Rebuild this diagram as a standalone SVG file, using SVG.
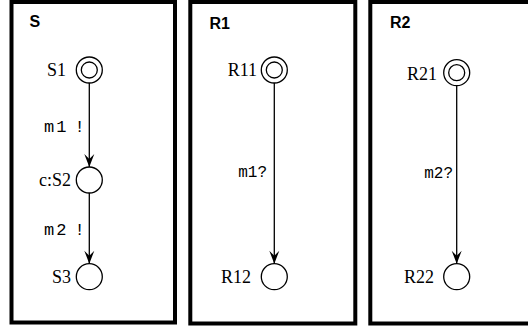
<svg xmlns="http://www.w3.org/2000/svg" width="528" height="329" viewBox="0 0 528 329">
<defs>
<style>
.box{fill:#fff;stroke:#000;stroke-width:4}
.title{font-family:"Liberation Sans",Arial,sans-serif;font-weight:bold;font-size:16px;fill:#000}
.st{fill:#fff;stroke:#000;stroke-width:1.3}
.sl{font-family:"Liberation Serif","Times New Roman",serif;font-size:18px;fill:#000;text-anchor:end}
.tl{font-family:"Liberation Mono","Courier New",monospace;font-size:16px;fill:#000;text-anchor:end}
.tls{font-family:"Liberation Mono","Courier New",monospace;font-size:17px;fill:#000;letter-spacing:2px}
.edge{stroke:#000;stroke-width:1.3;fill:none;marker-end:url(#ah)}
</style>
<marker id="ah" markerUnits="userSpaceOnUse" markerWidth="16" markerHeight="12" viewBox="-14 -6 16 12" refX="0" refY="0" orient="auto">
<path d="M0,0 L-13,-5 L-8,0 L-13,5 Z" fill="#000"/>
</marker>
</defs>
<g id="S">
<rect class="box" x="11.5" y="2" width="163.5" height="320.5"/>
<text class="title" x="29.5" y="27">S</text>
</g>
<g id="R1">
<rect class="box" x="190.3" y="2" width="165" height="321.5"/>
<text class="title" x="209.5" y="29">R1</text>
</g>
<g id="R2">
<rect class="box" x="370.3" y="2" width="165" height="321.5"/>
<text class="title" x="390" y="28">R2</text>
</g>
<g id="S1"><circle class="st" cx="89.3" cy="70" r="13"/><circle class="st" cx="89.3" cy="70" r="8"/><text class="sl" x="66" y="76">S1</text></g>
<g id="S2"><circle class="st" cx="89.3" cy="180" r="13"/><text class="sl" x="71" y="186">c:S2</text></g>
<g id="S3"><circle class="st" cx="89.3" cy="276.7" r="13"/><text class="sl" x="71" y="283">S3</text></g>
<g id="R11"><circle class="st" cx="274.3" cy="70" r="13"/><circle class="st" cx="274.3" cy="70" r="8"/><text class="sl" x="257" y="76">R11</text></g>
<g id="R12"><circle class="st" cx="274.3" cy="276.7" r="13"/><text class="sl" x="251" y="283">R12</text></g>
<g id="R21"><circle class="st" cx="456.7" cy="72.7" r="13"/><circle class="st" cx="456.7" cy="72.7" r="8"/><text class="sl" x="437" y="80">R21</text></g>
<g id="R22"><circle class="st" cx="456.7" cy="276.7" r="13"/><text class="sl" x="434" y="283">R22</text></g>
<g id="connectors">
<line class="edge" x1="89.3" y1="83" x2="89.3" y2="167"/>
<line class="edge" x1="89.3" y1="193" x2="89.3" y2="263.7"/>
<line class="edge" x1="274.3" y1="83" x2="274.3" y2="263.7"/>
<line class="edge" x1="456.7" y1="85.7" x2="456.7" y2="263.7"/>
<text class="tls" x="44" y="132">m1<tspan x="74.5">!</tspan></text>
<text class="tls" x="44" y="235">m2<tspan x="74.5">!</tspan></text>
<text class="tl" x="267" y="177">m1?</text>
<text class="tl" x="453" y="178">m2?</text>
</g>
</svg>
